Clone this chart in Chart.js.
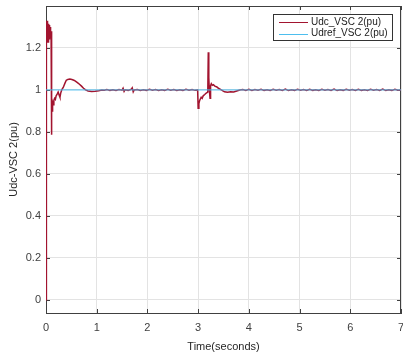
<!DOCTYPE html>
<html>
<head>
<meta charset="utf-8">
<script src="https://cdn.jsdelivr.net/npm/chart.js@4.4.1/dist/chart.umd.min.js"></script>
<style>
  html, body { margin: 0; padding: 0; background: #fff; }
  #wrap { width: 403px; height: 358px; }
</style>
</head>
<body>
<div id="wrap"><canvas id="dcChart" width="403" height="358"></canvas></div>
<script>
// DC voltage of VSC 2 (per unit) against time in seconds
const timeSec = [
  // start-up transient
  0, 0.001, 0.005, 0.01, 0.015, 0.02, 0.025, 0.03, 0.035, 0.04,
  0.045, 0.05, 0.055, 0.06, 0.065, 0.07, 0.075, 0.08, 0.085, 0.09,
  0.095, 0.1, 0.104, 0.108, 0.113, 0.118, 0.124, 0.13, 0.14, 0.155,
  0.17, 0.185, 0.2, 0.22, 0.24, 0.26, 0.275, 0.29, 0.31, 0.34,
  0.37, 0.4, 0.43, 0.47, 0.51, 0.55, 0.58, 0.62, 0.66, 0.7,
  0.74, 0.78, 0.83, 0.9, 0.97, 1.04, 1.1,
  // steady state
  1.15, 1.2, 1.26, 1.32, 1.38, 1.44, 1.5, 1.52, 1.54, 1.56,
  1.62, 1.68, 1.7, 1.72, 1.74, 1.8, 1.86, 1.92, 1.98, 2.04,
  2.1, 2.16, 2.22, 2.28, 2.34, 2.4, 2.46, 2.52, 2.58, 2.64,
  2.7, 2.76, 2.82, 2.88, 2.94, 2.99,
  // disturbance at 3 s
  3.0, 3.015, 3.03, 3.045, 3.06, 3.08, 3.1, 3.13, 3.16, 3.19,
  3.2, 3.21, 3.22, 3.235, 3.245, 3.26, 3.28, 3.3, 3.33, 3.37,
  3.4, 3.44, 3.48, 3.52, 3.58, 3.64, 3.7, 3.76, 3.82,
  // steady state
  3.88, 3.94, 4.0, 4.06, 4.12, 4.18, 4.24, 4.3, 4.36, 4.42,
  4.48, 4.54, 4.6, 4.66, 4.72, 4.78, 4.84, 4.9, 4.96, 5.02,
  5.08, 5.14, 5.2, 5.26, 5.32, 5.38, 5.44, 5.5, 5.56, 5.62,
  5.68, 5.74, 5.8, 5.86, 5.92, 5.98, 6.04, 6.1, 6.16, 6.22,
  6.28, 6.34, 6.4, 6.46, 6.52, 6.58, 6.64, 6.7, 6.76, 6.82,
  6.88, 6.94, 7.0
];
const udcPu = [
  0, 1.33, 1.24, 1.325, 1.23, 1.33, 1.225, 1.32, 1.23, 1.315,
  1.225, 1.31, 1.235, 1.31, 1.24, 1.305, 1.245, 1.30, 1.25, 1.30,
  1.25, 1.28, 0.786, 0.96, 0.89, 0.935, 0.9, 0.94, 0.93, 0.95,
  0.96, 0.955, 0.972, 0.98, 0.99, 0.975, 0.965, 0.985, 1.0, 1.012,
  1.03, 1.046, 1.05, 1.052, 1.05, 1.046, 1.042, 1.035, 1.027, 1.018,
  1.008, 1.0, 0.995, 0.993, 0.994, 0.996, 1.0,

  0.999, 1.002, 0.998, 1.001, 0.997, 1.002, 0.999, 1.008, 0.993, 1.001,
  0.998, 1.003, 1.01, 0.991, 1.0, 1.002, 0.997, 1.001, 0.998, 1.003,
  0.999, 1.002, 0.997, 1.001, 0.998, 1.003, 0.999, 1.002, 0.997, 1.001,
  0.998, 1.003, 0.999, 1.002, 0.998, 1.0,

  0.913, 0.935, 0.95, 0.958, 0.965, 0.96, 0.972, 0.978, 0.985, 0.99,
  1.18, 1.06, 1.0, 0.96, 1.02, 1.03, 1.022, 1.025, 1.018, 1.014,
  1.008, 1.003, 0.997, 0.991, 0.989, 0.991, 0.99, 0.995, 1.0,

  1.002, 0.998, 1.003, 0.997, 1.002, 0.999, 1.003, 0.998, 1.001, 0.997,
  1.003, 0.999, 1.002, 0.998, 1.004, 0.997, 1.001, 0.998, 1.003, 0.999,
  1.002, 0.997, 1.003, 0.998, 1.001, 0.997, 1.003, 0.999, 1.002, 0.998,
  1.004, 0.997, 1.001, 0.998, 1.003, 0.999, 1.002, 0.997, 1.003, 0.998,
  1.001, 0.997, 1.003, 0.999, 1.002, 0.998, 1.004, 0.997, 1.001, 0.998,
  1.003, 0.999, 1.0
];
// reference voltage, flat over the whole run
const refTimeSec = [0, 7];
const udrefPu = [1, 1];

const xTicks = [0, 1, 2, 3, 4, 5, 6, 7];
const yTicks = [0, 0.2, 0.4, 0.6, 0.8, 1, 1.2];
const yTickLabels = ["0", "0.2", "0.4", "0.6", "0.8", "1", "1.2"];

const FONT = "'Liberation Sans', Arial, sans-serif";
const AXIS_COLOR = "#404040";
const RED = "#a2142f";
const CYAN = "#4dbeee";

const toPoints = (xs, ys) => xs.map((x, i) => ({ x: x, y: ys[i] }));

// box around the plot with inward tick marks (under the traces), legend on top
const matlabFrame = {
  id: "matlabFrame",
  beforeDatasetsDraw(chart) {
    const { ctx, chartArea: a, scales } = chart;
    ctx.save();
    ctx.strokeStyle = AXIS_COLOR;
    ctx.lineWidth = 1;
    ctx.strokeRect(a.left + 0.5, a.top + 0.5, a.right - a.left - 1, a.bottom - a.top);
    ctx.beginPath();
    xTicks.forEach((t) => {
      const px = Math.round(scales.x.getPixelForValue(t)) + 0.5;
      ctx.moveTo(px, a.bottom); ctx.lineTo(px, a.bottom - 4);
      ctx.moveTo(px, a.top); ctx.lineTo(px, a.top + 4);
    });
    yTicks.forEach((t) => {
      const py = Math.round(scales.y.getPixelForValue(t)) + 0.5;
      ctx.moveTo(a.left, py); ctx.lineTo(a.left + 4, py);
      ctx.moveTo(a.right, py); ctx.lineTo(a.right - 4, py);
    });
    ctx.stroke();
    ctx.restore();
  },
  afterDraw(chart) {
    const { ctx } = chart;
    ctx.save();
    const bx = 273.5, by = 14.5, bw = 119, bh = 26;
    ctx.fillStyle = "#fff";
    ctx.fillRect(bx, by, bw, bh);
    ctx.strokeStyle = "#333";
    ctx.lineWidth = 1;
    ctx.strokeRect(bx, by, bw, bh);
    ctx.font = "10px " + FONT;
    ctx.textBaseline = "middle";
    ctx.textAlign = "left";
    chart.data.datasets.forEach((ds, i) => {
      const y = by + 7.5 + i * 11.5;
      ctx.strokeStyle = ds.borderColor;
      ctx.beginPath();
      ctx.moveTo(279, Math.round(y) + 0.5);
      ctx.lineTo(308, Math.round(y) + 0.5);
      ctx.stroke();
      ctx.fillStyle = "#222";
      ctx.fillText(ds.label, 311, y);
    });
    ctx.restore();
  },
};

new Chart(document.getElementById("dcChart"), {
  type: "line",
  data: {
    datasets: [
      {
        label: "Udc_VSC 2(pu)",
        data: toPoints(timeSec, udcPu),
        borderColor: RED,
        borderWidth: 1.5,
        pointRadius: 0,
        tension: 0,
        order: 1,
      },
      {
        label: "Udref_VSC 2(pu)",
        data: toPoints(refTimeSec, udrefPu),
        borderColor: CYAN,
        borderWidth: 1,
        pointRadius: 0,
        order: 0,
      },
    ],
  },
  options: {
    responsive: false,
    animation: false,
    devicePixelRatio: 1,
    parsing: false,
    layout: { padding: { top: 6, right: 2, left: 0, bottom: 0 } },
    plugins: { legend: { display: false }, tooltip: { enabled: false } },
    scales: {
      x: {
        type: "linear",
        min: 0,
        max: 7,
        afterFit: (s) => { s.height = 45; s.paddingLeft = 0; s.paddingRight = 0; },
        afterBuildTicks: (s) => { s.ticks = xTicks.map((v) => ({ value: v })); },
        ticks: { color: AXIS_COLOR, font: { family: FONT, size: 11 }, padding: 8, maxRotation: 0 },
        grid: { color: "#e3e3e3", drawTicks: false },
        border: { color: AXIS_COLOR },
        title: { display: true, text: "Time(seconds)", color: "#262626", font: { family: FONT, size: 11 }, padding: { bottom: 4, top: 0 } },
      },
      y: {
        type: "linear",
        min: -0.063,
        max: 1.4,
        afterFit: (s) => { s.width = 46; s.paddingTop = 0; s.paddingBottom = 0; },
        afterBuildTicks: (s) => { s.ticks = yTicks.map((v) => ({ value: v })); },
        ticks: {
          color: AXIS_COLOR,
          font: { family: FONT, size: 11 },
          padding: 5,
          callback: (v) => yTickLabels[yTicks.indexOf(v)],
        },
        grid: { color: "#e3e3e3", drawTicks: false },
        border: { display: false },
        title: { display: true, text: "Udc-VSC 2(pu)", color: "#262626", font: { family: FONT, size: 11 }, padding: { top: 7, bottom: 0 } },
      },
    },
  },
  plugins: [matlabFrame],
});
</script>
</body>
</html>
